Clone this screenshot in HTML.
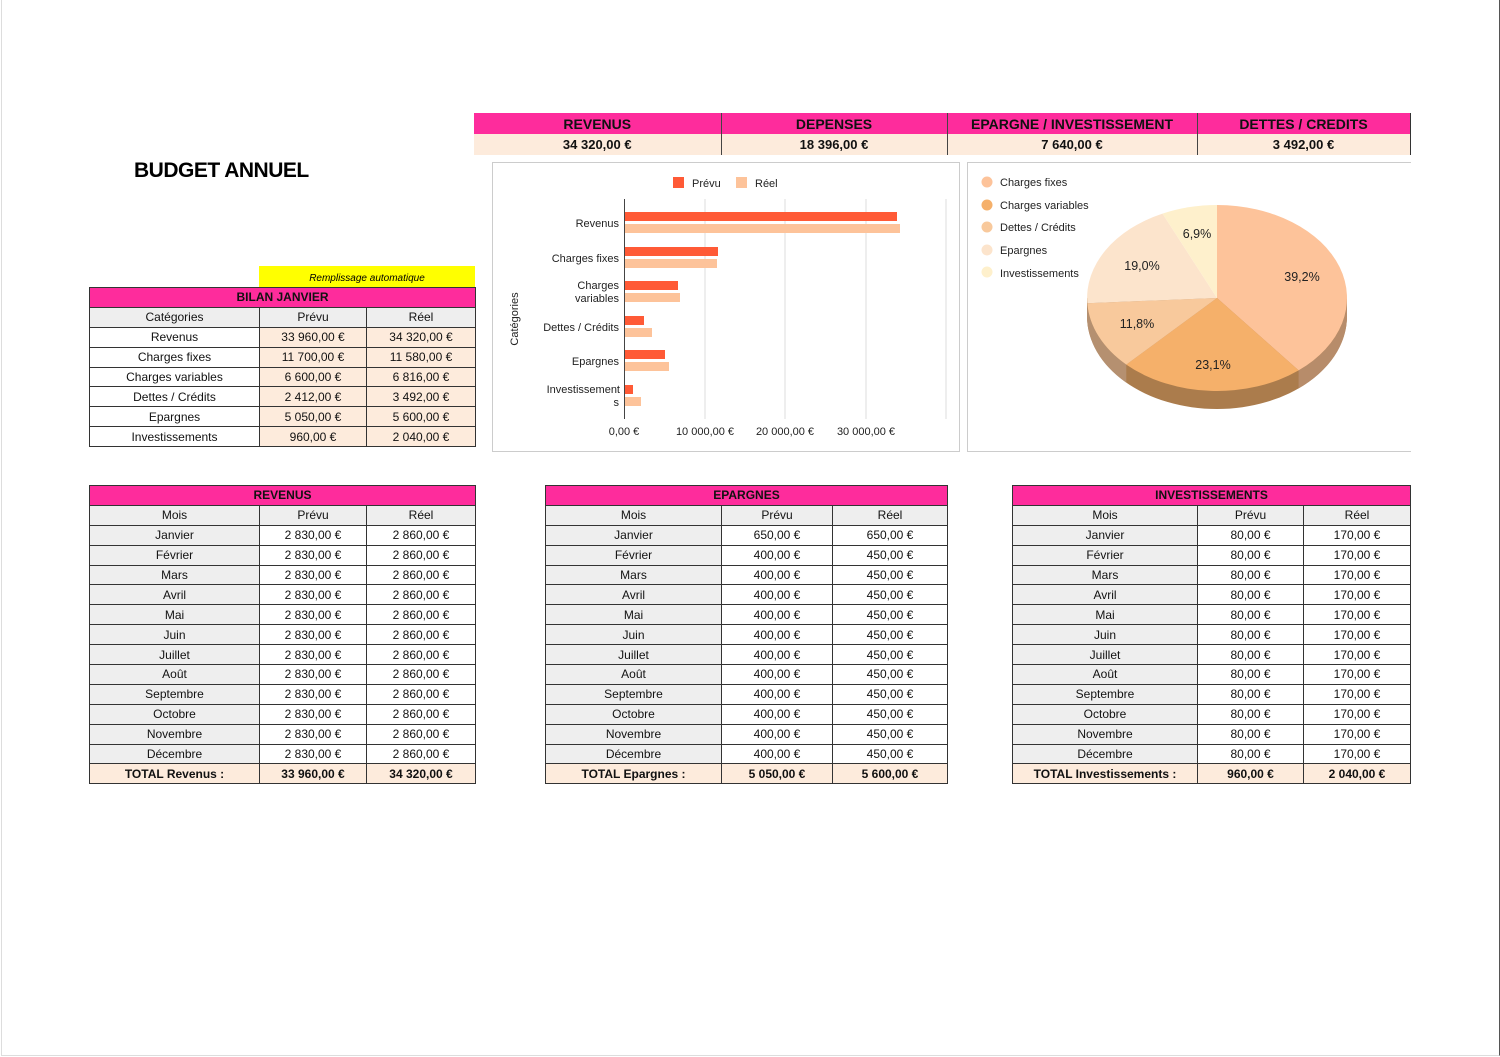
<!DOCTYPE html>
<html><head><meta charset="utf-8">
<style>
body{margin:0;width:1500px;height:1057px;background:#fff;position:relative;overflow:hidden;font-family:"Liberation Sans","DejaVu Sans",sans-serif;}
.frame{position:absolute;left:1px;top:0;width:1497px;height:1055px;border-left:1px solid #ddd;border-right:1px solid #555;border-bottom:1px solid #ddd;}
table{position:absolute;border-collapse:collapse;table-layout:fixed;font-size:12px;color:#111;}
td{border:1px solid #333;height:18.9px;padding:0;text-align:center;white-space:nowrap;overflow:hidden;line-height:18px;}
.t{background:#fe2c9c;font-weight:bold;}
.h{background:#eeeeee;}
.g{background:#eeeeee;}
.p{background:#fdebdc;}
.tot td{background:#fdebdc;font-weight:bold;}
.sum td{height:21px;font-weight:bold;border-top:none;border-bottom:none;border-left:none;}
</style></head><body>
<div class="frame"></div>

<div style="position:absolute;left:134px;top:159px;font-size:21px;font-weight:bold;letter-spacing:-0.5px;">BUDGET ANNUEL</div>

<table class="sum" style="left:474px;top:113px;width:936px;">
<colgroup><col style="width:247px"><col style="width:226px"><col style="width:250px"><col style="width:213px"></colgroup>
<tr style="background:#fe2c9c;font-size:14px;"><td style="border-right:1px solid #444">REVENUS</td><td style="border-right:1px solid #444">DEPENSES</td><td style="border-right:1px solid #444">EPARGNE / INVESTISSEMENT</td><td>DETTES / CREDITS</td></tr>
<tr style="background:#fdebdc;font-size:13px;"><td style="border-right:1px solid #444">34 320,00 €</td><td style="border-right:1px solid #444">18 396,00 €</td><td style="border-right:1px solid #444">7 640,00 €</td><td>3 492,00 €</td></tr>
</table>

<div style="position:absolute;left:259px;top:266px;width:216px;height:21px;background:#ffff00;font-size:10px;font-style:italic;text-align:center;line-height:26px;">Remplissage automatique</div>
<table style="left:89px;top:287px;width:386px;">
<colgroup><col style="width:170px"><col style="width:107px"><col style="width:109px"></colgroup>
<tr><td class="t" colspan="3">BILAN JANVIER</td></tr>
<tr class="h"><td>Catégories</td><td>Prévu</td><td>Réel</td></tr>
<tr><td>Revenus</td><td class="p">33 960,00 €</td><td class="p">34 320,00 €</td></tr>
<tr><td>Charges fixes</td><td class="p">11 700,00 €</td><td class="p">11 580,00 €</td></tr>
<tr><td>Charges variables</td><td class="p">6 600,00 €</td><td class="p">6 816,00 €</td></tr>
<tr><td>Dettes / Crédits</td><td class="p">2 412,00 €</td><td class="p">3 492,00 €</td></tr>
<tr><td>Epargnes</td><td class="p">5 050,00 €</td><td class="p">5 600,00 €</td></tr>
<tr><td>Investissements</td><td class="p">960,00 €</td><td class="p">2 040,00 €</td></tr>
</table>

<svg style="position:absolute;left:0;top:0" width="1500" height="1057" font-family="Liberation Sans, DejaVu Sans, sans-serif" font-size="11" fill="#222">
<rect x="492.5" y="162.5" width="467" height="289" fill="#fff" stroke="#ccc"/>
<rect x="673" y="177" width="11" height="11" fill="#ff5a36"/><text x="692" y="187">Prévu</text>
<rect x="736" y="177" width="11" height="11" fill="#fdc39a"/><text x="755" y="187">Réel</text>
<g stroke="#ddd"><line x1="705" y1="199" x2="705" y2="419"/><line x1="785" y1="199" x2="785" y2="419"/><line x1="866" y1="199" x2="866" y2="419"/><line x1="946" y1="199" x2="946" y2="419"/></g>
<line x1="624.5" y1="199" x2="624.5" y2="419" stroke="#444"/>
<rect x="625" y="212" width="272" height="9" fill="#ff5a36"/><rect x="625" y="224" width="275" height="9" fill="#fdc39a"/>
<rect x="625" y="247" width="93" height="9" fill="#ff5a36"/><rect x="625" y="259" width="92" height="9" fill="#fdc39a"/>
<rect x="625" y="281" width="53" height="9" fill="#ff5a36"/><rect x="625" y="293" width="55" height="9" fill="#fdc39a"/>
<rect x="625" y="316" width="19" height="9" fill="#ff5a36"/><rect x="625" y="328" width="27" height="9" fill="#fdc39a"/>
<rect x="625" y="350" width="40" height="9" fill="#ff5a36"/><rect x="625" y="362" width="44" height="9" fill="#fdc39a"/>
<rect x="625" y="385" width="8" height="9" fill="#ff5a36"/><rect x="625" y="397" width="16" height="9" fill="#fdc39a"/>
<g text-anchor="end">
<text x="619" y="227">Revenus</text>
<text x="619" y="262">Charges fixes</text>
<text x="619" y="289">Charges</text><text x="619" y="302">variables</text>
<text x="619" y="331">Dettes / Crédits</text>
<text x="619" y="365">Epargnes</text>
<text x="620" y="393">Investissement</text><text x="619" y="406">s</text>
</g>
<g text-anchor="middle">
<text x="624" y="435">0,00 €</text><text x="705" y="435">10 000,00 €</text><text x="785" y="435">20 000,00 €</text><text x="866" y="435">30 000,00 €</text>
</g>
<text transform="translate(518,319) rotate(-90)" text-anchor="middle">Catégories</text>

<path d="M967.5 451.5 V162.5 H1411" fill="none" stroke="#ccc"/>
<line x1="967" y1="451.5" x2="1411" y2="451.5" stroke="#ccc"/>
<circle cx="987" cy="182" r="5.5" fill="#fdc39a"/><text x="1000" y="186">Charges fixes</text>
<circle cx="987" cy="205" r="5.5" fill="#f5b06a"/><text x="1000" y="209">Charges variables</text>
<circle cx="987" cy="227" r="5.5" fill="#f8c99c"/><text x="1000" y="231">Dettes / Crédits</text>
<circle cx="987" cy="250" r="5.5" fill="#fce4cc"/><text x="1000" y="254">Epargnes</text>
<circle cx="987" cy="272" r="5.5" fill="#fef0cc"/><text x="1000" y="277">Investissements</text>
<path d="M1087 298 V316 A130 93 0 0 0 1347 316 V298 Z" fill="#ab7c4c"/>
<path d="M1298.6 370.4 L1298.6 388.4 A130 93 0 0 0 1347 316 V298 A130 93 0 0 1 1298.6 370.4Z" fill="#b78c6a"/>
<path d="M1126.3 364.6 V382.6 A130 93 0 0 1 1087 316 V298 A130 93 0 0 0 1126.3 364.6Z" fill="#b59070"/>
<path d="M1217 298 L1217 205 A130 93 0 0 1 1298.6 370.4 Z" fill="#fdc39a"/>
<path d="M1217 298 L1298.6 370.4 A130 93 0 0 1 1126.3 364.6 Z" fill="#f5b06a"/>
<path d="M1217 298 L1126.3 364.6 A130 93 0 0 1 1087.3 303.2 Z" fill="#f8c99c"/>
<path d="M1217 298 L1087.3 303.2 A130 93 0 0 1 1162.5 213.6 Z" fill="#fce4cc"/>
<path d="M1217 298 L1162.5 213.6 A130 93 0 0 1 1217 205 Z" fill="#fef0cc"/>
<g font-size="12.5" text-anchor="middle">
<text x="1302" y="281">39,2%</text><text x="1213" y="369">23,1%</text><text x="1137" y="328">11,8%</text><text x="1142" y="270">19,0%</text><text x="1197" y="238">6,9%</text>
</g>
</svg>

<table style="left:89px;top:485px;width:386px;">
<colgroup><col style="width:170px"><col style="width:107px"><col style="width:109px"></colgroup>
<tr><td class="t" colspan="3">REVENUS</td></tr>
<tr class="h"><td>Mois</td><td>Prévu</td><td>Réel</td></tr>
<tr><td class="g">Janvier</td><td>2 830,00 €</td><td>2 860,00 €</td></tr>
<tr><td class="g">Février</td><td>2 830,00 €</td><td>2 860,00 €</td></tr>
<tr><td class="g">Mars</td><td>2 830,00 €</td><td>2 860,00 €</td></tr>
<tr><td class="g">Avril</td><td>2 830,00 €</td><td>2 860,00 €</td></tr>
<tr><td class="g">Mai</td><td>2 830,00 €</td><td>2 860,00 €</td></tr>
<tr><td class="g">Juin</td><td>2 830,00 €</td><td>2 860,00 €</td></tr>
<tr><td class="g">Juillet</td><td>2 830,00 €</td><td>2 860,00 €</td></tr>
<tr><td class="g">Août</td><td>2 830,00 €</td><td>2 860,00 €</td></tr>
<tr><td class="g">Septembre</td><td>2 830,00 €</td><td>2 860,00 €</td></tr>
<tr><td class="g">Octobre</td><td>2 830,00 €</td><td>2 860,00 €</td></tr>
<tr><td class="g">Novembre</td><td>2 830,00 €</td><td>2 860,00 €</td></tr>
<tr><td class="g">Décembre</td><td>2 830,00 €</td><td>2 860,00 €</td></tr>
<tr class="tot"><td>TOTAL Revenus :</td><td>33 960,00 €</td><td>34 320,00 €</td></tr>
</table>

<table style="left:545px;top:485px;width:402px;">
<colgroup><col style="width:176px"><col style="width:111px"><col style="width:115px"></colgroup>
<tr><td class="t" colspan="3">EPARGNES</td></tr>
<tr class="h"><td>Mois</td><td>Prévu</td><td>Réel</td></tr>
<tr><td class="g">Janvier</td><td>650,00 €</td><td>650,00 €</td></tr>
<tr><td class="g">Février</td><td>400,00 €</td><td>450,00 €</td></tr>
<tr><td class="g">Mars</td><td>400,00 €</td><td>450,00 €</td></tr>
<tr><td class="g">Avril</td><td>400,00 €</td><td>450,00 €</td></tr>
<tr><td class="g">Mai</td><td>400,00 €</td><td>450,00 €</td></tr>
<tr><td class="g">Juin</td><td>400,00 €</td><td>450,00 €</td></tr>
<tr><td class="g">Juillet</td><td>400,00 €</td><td>450,00 €</td></tr>
<tr><td class="g">Août</td><td>400,00 €</td><td>450,00 €</td></tr>
<tr><td class="g">Septembre</td><td>400,00 €</td><td>450,00 €</td></tr>
<tr><td class="g">Octobre</td><td>400,00 €</td><td>450,00 €</td></tr>
<tr><td class="g">Novembre</td><td>400,00 €</td><td>450,00 €</td></tr>
<tr><td class="g">Décembre</td><td>400,00 €</td><td>450,00 €</td></tr>
<tr class="tot"><td>TOTAL Epargnes :</td><td>5 050,00 €</td><td>5 600,00 €</td></tr>
</table>

<table style="left:1012px;top:485px;width:398px;">
<colgroup><col style="width:185px"><col style="width:106px"><col style="width:107px"></colgroup>
<tr><td class="t" colspan="3">INVESTISSEMENTS</td></tr>
<tr class="h"><td>Mois</td><td>Prévu</td><td>Réel</td></tr>
<tr><td class="g">Janvier</td><td>80,00 €</td><td>170,00 €</td></tr>
<tr><td class="g">Février</td><td>80,00 €</td><td>170,00 €</td></tr>
<tr><td class="g">Mars</td><td>80,00 €</td><td>170,00 €</td></tr>
<tr><td class="g">Avril</td><td>80,00 €</td><td>170,00 €</td></tr>
<tr><td class="g">Mai</td><td>80,00 €</td><td>170,00 €</td></tr>
<tr><td class="g">Juin</td><td>80,00 €</td><td>170,00 €</td></tr>
<tr><td class="g">Juillet</td><td>80,00 €</td><td>170,00 €</td></tr>
<tr><td class="g">Août</td><td>80,00 €</td><td>170,00 €</td></tr>
<tr><td class="g">Septembre</td><td>80,00 €</td><td>170,00 €</td></tr>
<tr><td class="g">Octobre</td><td>80,00 €</td><td>170,00 €</td></tr>
<tr><td class="g">Novembre</td><td>80,00 €</td><td>170,00 €</td></tr>
<tr><td class="g">Décembre</td><td>80,00 €</td><td>170,00 €</td></tr>
<tr class="tot"><td>TOTAL Investissements :</td><td>960,00 €</td><td>2 040,00 €</td></tr>
</table>
</body></html>
